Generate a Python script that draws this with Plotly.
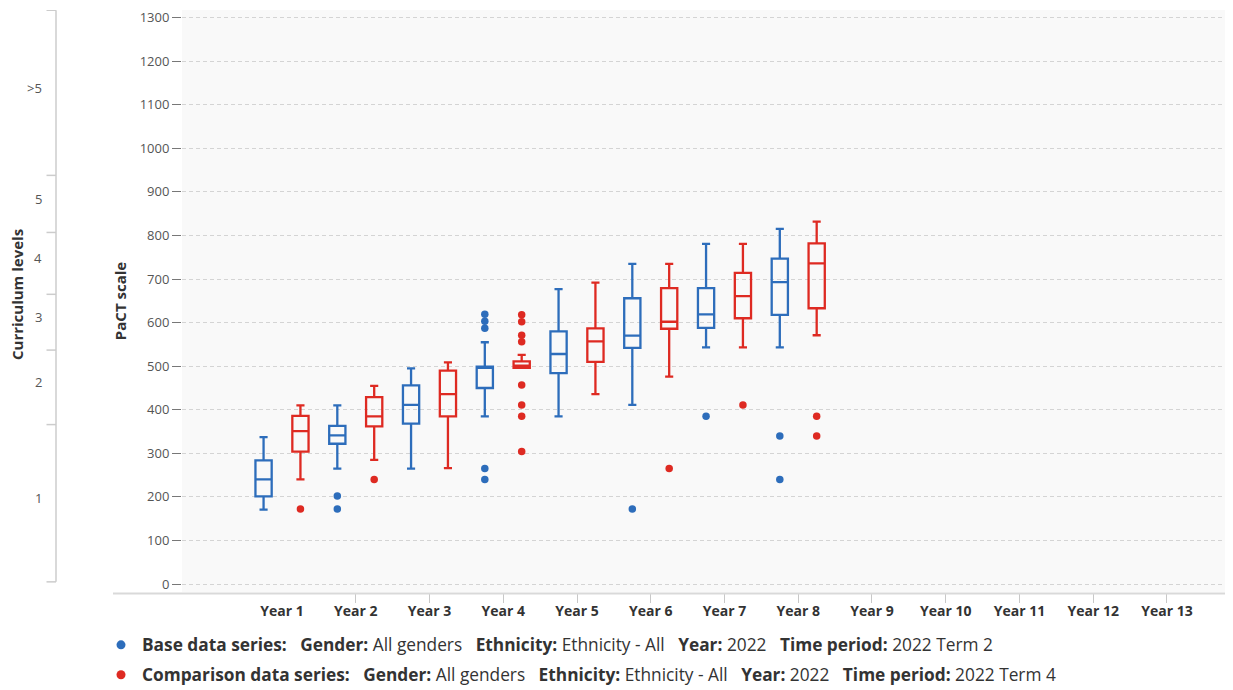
import plotly.graph_objects as go

# ---------------- data ----------------
year_labels = ["Year 1", "Year 2", "Year 3", "Year 4", "Year 5", "Year 6", "Year 7",
               "Year 8", "Year 9", "Year 10", "Year 11", "Year 12", "Year 13"]

base_lower = [171, 265, 265, 385, 385, 411, 543, 543]
base_q1 = [201, 322, 368, 450, 484, 542, 588, 618]
base_median = [240, 341, 411, 496, 528, 570, 619, 693]
base_q3 = [284, 363, 456, 499, 580, 656, 679, 747]
base_upper = [337, 410, 495, 555, 677, 735, 781, 815]
base_outliers = [[], [202, 172], [], [619, 603, 587, 265, 240], [], [172], [385], [340, 240]]

comp_lower = [240, 285, 266, 496, 436, 476, 543, 571]
comp_q1 = [304, 362, 385, 496, 510, 586, 610, 633]
comp_median = [351, 385, 436, 501, 557, 602, 661, 736]
comp_q3 = [386, 429, 490, 511, 587, 679, 714, 782]
comp_upper = [410, 455, 509, 526, 692, 735, 781, 832]
comp_outliers = [[172], [240], [], [618, 602, 571, 556, 457, 411, 385, 304], [], [265], [411], [385, 340]]

curriculum_labels = ["1", "2", "3", "4", "5", ">5"]
curriculum_bounds = [5, 366, 537, 665, 807, 938, 1317]

pact_ticks = [0, 100, 200, 300, 400, 500, 600, 700, 800, 900, 1000, 1100, 1200, 1300]

series_names = ["Base data series:", "Comparison data series:"]
series_gender = ["All genders", "All genders"]
series_ethnicity = ["Ethnicity - All", "Ethnicity - All"]
series_year = ["2022", "2022"]
series_period = ["2022 Term 2", "2022 Term 4"]

# ---------------- style / layout geometry ----------------
BLUE = "#2d6dbb"
RED = "#de2a22"
FONT = "Open Sans"
TXT = "#333333"
BOX_OFFSET = 0.25

# the page body keeps an 8px margin; the figure is offset by it and runs to the window edge
FIG_W, FIG_H = 1225, 682
ML, MR, MT, MB = 174, 2, 0, 98
PW = FIG_W - ML - MR
PH = FIG_H - MT - MB


def px(sx):  # window x -> paper x
    return (sx - 8 - ML) / PW


def py(sy):  # window y -> paper y
    return (PH + MT - (sy - 8)) / PH


fig = go.Figure()


def add_series(color, lower, q1, med, q3, upper, outliers, offset):
    xs = [i + offset for i in range(len(q1))]
    fig.add_trace(go.Box(
        x=xs, q1=q1, median=med, q3=q3, lowerfence=lower, upperfence=upper,
        orientation="v", width=0.22, boxpoints=False,
        line=dict(color=color, width=2.3), fillcolor="rgba(0,0,0,0)",
        showlegend=False, hoverinfo="skip"))
    ox, oy = [], []
    for i, vals in enumerate(outliers):
        for v in vals:
            ox.append(i + offset)
            oy.append(v)
    fig.add_trace(go.Scatter(
        x=ox, y=oy, mode="markers", marker=dict(color=color, size=7.5),
        showlegend=False, hoverinfo="skip"))


add_series(BLUE, base_lower, base_q1, base_median, base_q3, base_upper, base_outliers, -BOX_OFFSET)
add_series(RED, comp_lower, comp_q1, comp_median, comp_q3, comp_upper, comp_outliers, BOX_OFFSET)

# dummy trace for the tick-only overlay axis
fig.add_trace(go.Scatter(x=[None], y=[None], xaxis="x2", showlegend=False, hoverinfo="skip"))

# ---------------- legend (drawn as annotations so it does not push the margins) ----------------
sp = "&nbsp;&nbsp;&nbsp;"
legend_rows_y = [645, 675]
for k, color in enumerate([BLUE, RED]):
    label = (f"<b>{series_names[k]}</b>{sp}<b>Gender:</b> {series_gender[k]}{sp}"
             f"<b>Ethnicity:</b> {series_ethnicity[k]}{sp}<b>Year:</b> {series_year[k]}{sp}"
             f"<b>Time period:</b> {series_period[k]}")
    ry = py(legend_rows_y[k])
    fig.add_shape(type="circle", xref="paper", yref="paper",
                  xsizemode="pixel", ysizemode="pixel",
                  xanchor=px(121), yanchor=ry, x0=-4.5, x1=4.5, y0=-4.5, y1=4.5,
                  fillcolor=color, line=dict(width=0))
    fig.add_annotation(text=label, xref="paper", yref="paper", x=px(141), y=ry,
                       xanchor="left", yanchor="middle", showarrow=False, borderpad=0,
                       font=dict(family=FONT, size=17.3, color=TXT))

# ---------------- curriculum levels axis (left) ----------------
fig.add_shape(type="line", xref="paper", yref="y", x0=px(56), x1=px(56),
              y0=curriculum_bounds[0], y1=curriculum_bounds[-1],
              line=dict(color="#cccccc", width=1.5))
for b in curriculum_bounds:
    fig.add_shape(type="line", xref="paper", yref="y", x0=px(46.5), x1=px(56),
                  y0=b, y1=b, line=dict(color="#cccccc", width=1.5))
for i, lab in enumerate(curriculum_labels):
    mid = (curriculum_bounds[i] + curriculum_bounds[i + 1]) / 2
    fig.add_annotation(text=lab, xref="paper", yref="y", x=px(44), y=mid,
                       xanchor="right", yanchor="middle", showarrow=False, yshift=5,
                       font=dict(family=FONT, size=13, color="#555555"))
fig.add_annotation(text="<b>Curriculum levels</b>", xref="paper", yref="paper",
                   x=px(6), y=py(294), textangle=-90,
                   xanchor="left", yanchor="middle", showarrow=False, borderpad=0,
                   font=dict(family=FONT, size=15, color=TXT))

# x axis base line extending to the left
fig.add_shape(type="line", xref="paper", yref="paper", x0=px(113), x1=1,
              y0=py(593.5), y1=py(593.5), line=dict(color="#d9d9d9", width=2))

X_RANGE = [-1.356, 12.868]
fig.update_layout(
    width=FIG_W, height=FIG_H,
    margin=dict(l=ML, r=MR, t=MT, b=MB),
    paper_bgcolor="white", plot_bgcolor="#f9f9f9",
    font=dict(family=FONT, color=TXT),
    showlegend=False,
    xaxis=dict(range=X_RANGE, tickmode="array", tickvals=list(range(len(year_labels))),
               ticktext=[f"<b>{t}</b>" for t in year_labels], showgrid=False, zeroline=False,
               ticks="outside", ticklen=6, tickcolor="rgba(0,0,0,0)",
               tickfont=dict(family=FONT, size=14, color=TXT), showline=False),
    xaxis2=dict(range=X_RANGE, overlaying="x", anchor="y", side="bottom",
                tickmode="array", tickvals=list(range(1, len(year_labels))),
                ticks="outside", ticklen=10, tickcolor="#c8c8c8", tickwidth=1,
                showticklabels=False, showgrid=False, zeroline=False, showline=False),
    yaxis=dict(range=[-18.3, 1317.6], tickmode="array", tickvals=pact_ticks,
               showgrid=True, gridcolor="#d4d4d4", griddash="4px,3px", gridwidth=1,
               zeroline=False, ticks="outside", ticklen=9, tickcolor="#777777",
               ticklabeloverflow="allow",
               tickfont=dict(family=FONT, size=13, color="#555555"),
               title=dict(text="<b>PaCT scale</b>", standoff=9,
                          font=dict(family=FONT, size=15, color=TXT))),
)

fig.write_html("out.html")
